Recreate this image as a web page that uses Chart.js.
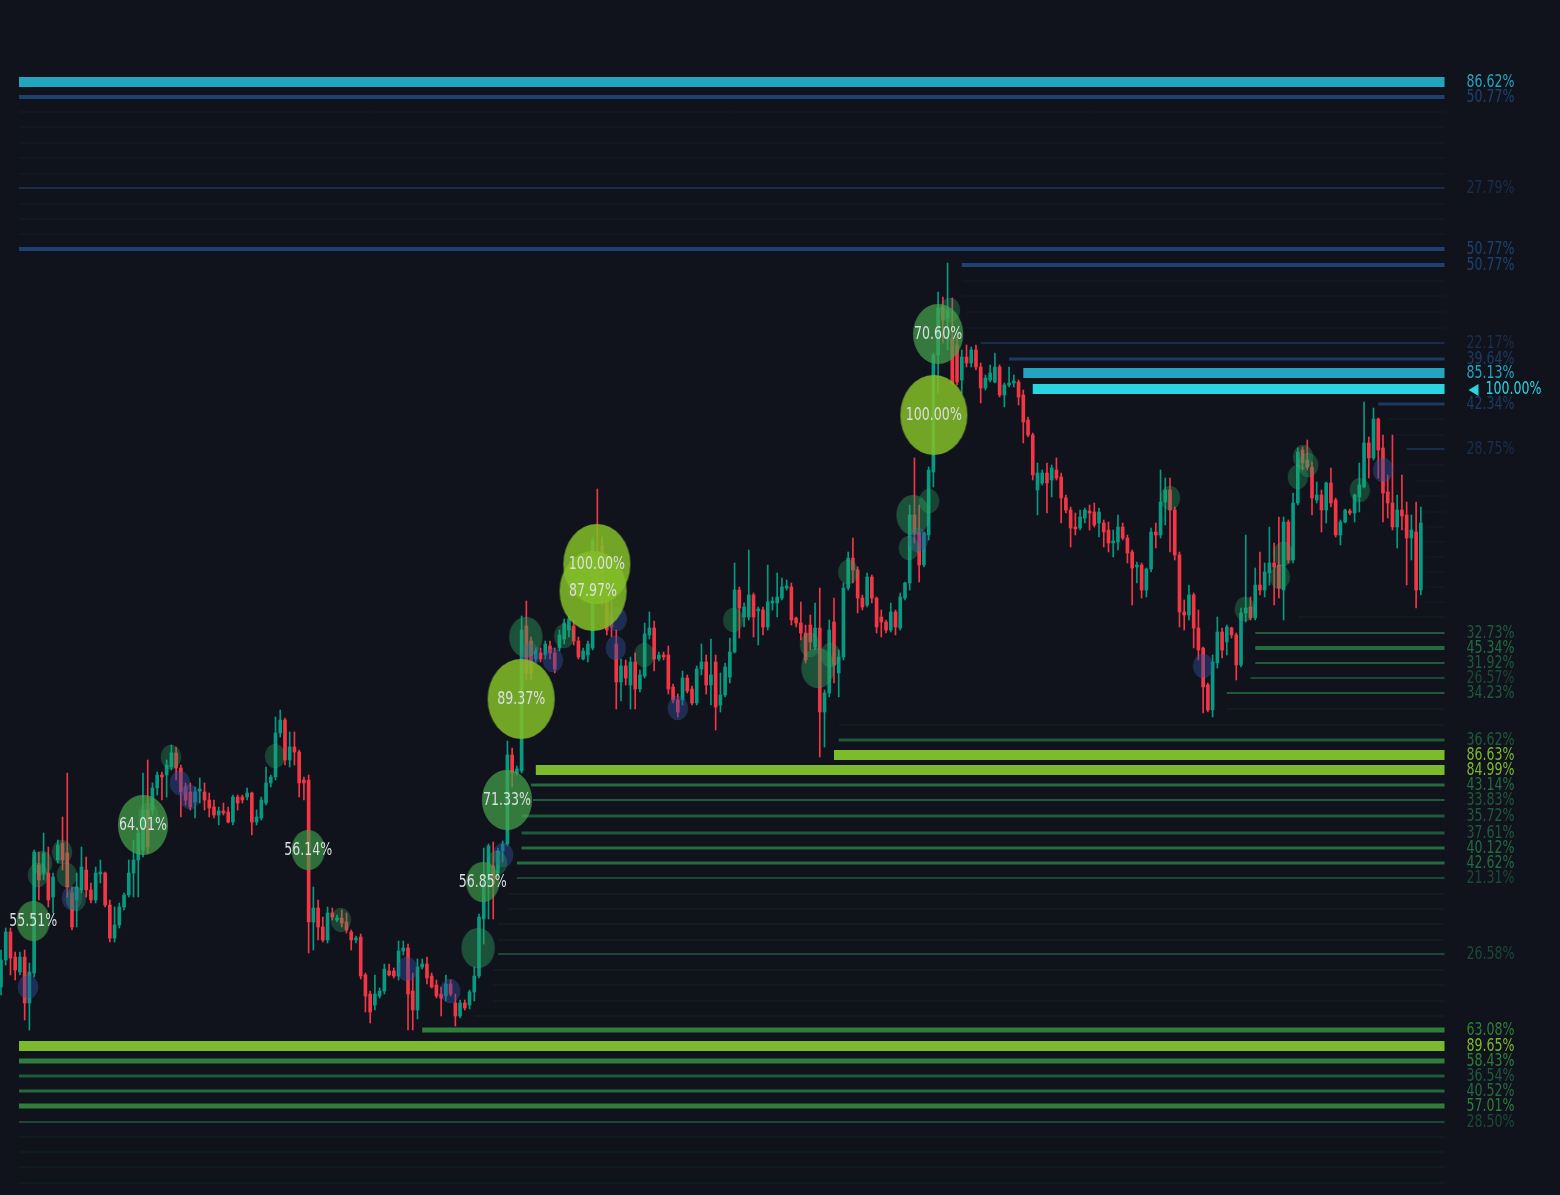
<!DOCTYPE html>
<html><head><meta charset="utf-8">
<script src="https://cdn.jsdelivr.net/npm/chart.js@4.4.1/dist/chart.umd.min.js"></script>
<style>html,body{margin:0;padding:0;background:#10131c;overflow:hidden}#wrap{width:1560px;height:1195px;position:relative}</style>
</head><body><div id="wrap"><canvas id="c"></canvas></div>
<script>
// ---- candles (price units) ----
const openP=[213,240,268,243,228,243,197,227,335,327,
327,303,340,357,347,307,300,310,330,310,
300,326,327,295,262,275,293,305,327,340,
350,390,390,412,425,425,433,447,432,413,
408,398,409,408,400,393,385,389,388,378,
403,403,403,407,378,382,397,417,423,467,
480,440,453,448,420,420,278,292,273,260,
287,280,282,278,268,260,263,225,206,195,
204,209,229,229,224,249,252,209,190,233,
236,224,215,206,204,216,197,184,197,195,
208,224,281,316,334,327,349,356,445,427,
429,574,559,541,547,545,554,547,552,561,
570,574,559,541,545,552,638,654,599,584,
556,518,534,515,538,511,524,565,572,541,
545,545,513,500,500,522,511,497,531,538,
515,538,495,505,523,548,610,583,583,605,
589,590,573,597,597,602,612,613,582,577,
567,575,553,572,488,507,578,527,543,612,
642,630,602,595,623,602,583,578,570,588,
572,602,617,685,667,635,665,728,845,893,
882,862,855,820,843,837,850,833,812,820,
818,833,805,815,817,818,805,780,765,710,
717,727,720,730,723,702,690,673,672,682,
689,688,677,677,670,657,658,673,662,648,
633,635,610,631,668,665,698,710,690,645,
588,585,605,572,552,515,490,537,568,558,
572,565,535,587,593,582,615,610,627,637,
635,610,678,640,697,750,740,733,700,705,
690,717,700,665,678,689,687,703,713,757,
742,781,752,708,697,673,690,685,662,668,
610];
const highP=[250,272,272,248,248,250,237,350,348,367,
353,327,360,383,427,313,327,353,343,317,
333,340,328,300,293,297,307,340,360,370,
427,440,417,428,428,440,455,453,435,417,
417,413,422,417,407,400,393,397,393,405,
405,405,412,408,390,403,433,425,483,490,
482,468,468,450,423,425,313,300,283,293,
292,285,290,287,270,264,266,227,209,225,
212,236,236,232,259,259,256,227,241,241,
243,227,220,213,225,220,206,200,200,210,
233,286,352,356,358,352,359,459,452,434,
584,599,563,552,552,559,559,552,570,581,
584,580,563,552,559,663,711,663,605,599,
570,541,540,543,547,530,577,588,579,548,
548,554,516,506,529,525,514,534,556,545,
561,545,527,537,562,637,613,597,650,607,
593,593,635,603,627,622,620,617,583,598,
575,585,597,612,510,580,602,550,617,648,
662,633,605,627,625,603,590,580,597,590,
607,618,695,742,695,668,733,847,908,903,
937,902,863,850,855,853,855,837,825,835,
847,835,817,833,825,820,810,783,767,737,
730,737,735,742,727,705,693,687,690,692,
695,697,692,680,678,670,685,677,665,650,
638,637,632,672,677,730,722,722,693,648,
600,615,607,590,553,517,545,583,572,575,
573,567,592,665,603,632,648,637,673,657,
683,683,680,707,752,753,760,738,718,710,
718,732,702,680,691,691,706,737,798,763,
792,782,765,725,765,705,725,698,685,698,
693];
const lowP=[205,235,225,220,225,180,170,223,300,320,
293,287,337,330,303,270,273,307,303,297,
297,317,293,258,258,272,290,303,303,303,
343,347,385,405,400,403,430,420,383,395,
390,382,397,390,383,382,375,385,377,375,
390,397,400,365,375,380,395,413,420,463,
435,433,435,403,400,247,250,260,258,257,
280,278,273,267,250,257,221,188,177,190,
202,206,224,222,220,245,170,170,181,231,
216,212,202,184,199,204,174,182,190,191,
199,222,256,281,281,324,338,354,413,425,
427,520,520,538,538,541,541,527,549,556,
563,555,541,540,538,550,610,595,565,563,
491,499,515,491,491,508,522,561,529,539,
540,506,497,483,495,507,495,495,525,506,
495,470,488,503,517,547,562,573,580,563,
555,565,570,590,583,600,610,575,573,560,
537,550,550,443,453,503,517,503,540,610,
617,587,590,593,597,567,563,567,568,565,
570,600,610,657,618,633,660,713,807,857,
850,815,815,807,833,833,830,797,810,818,
817,803,793,813,813,795,757,763,720,685,
715,687,703,720,677,687,653,665,670,677,
670,673,663,653,648,643,650,660,637,595,
617,602,603,628,652,662,675,648,640,573,
570,580,552,540,487,488,483,532,542,545,
562,520,533,578,580,580,605,603,615,595,
602,580,637,637,695,730,730,685,697,668,
677,693,663,655,677,685,678,688,712,722,
740,722,678,682,670,652,670,615,640,592,
605];
const closeP=[240,268,242,230,243,197,228,348,320,347,
300,323,355,340,313,273,313,333,310,300,
327,328,295,262,275,293,305,327,340,367,
390,353,412,425,423,435,447,432,408,400,
393,408,411,400,392,385,389,387,378,403,
397,400,407,378,383,400,417,423,467,480,
440,453,448,417,417,278,292,273,260,287,
283,282,277,270,260,262,224,204,188,206,
209,231,225,224,249,252,206,190,233,236,
222,213,204,202,216,206,184,197,192,208,
224,283,316,354,316,349,356,445,427,431,
570,527,527,549,541,556,547,531,565,577,
581,559,543,549,556,659,613,602,570,573,
518,534,522,538,511,525,566,572,541,545,
543,511,500,488,522,509,497,531,538,515,
525,493,505,533,548,610,592,593,605,583,
591,573,598,599,603,613,614,580,577,567,
540,558,572,488,507,570,535,543,612,642,
630,602,593,623,602,573,578,570,588,573,
603,617,685,667,635,667,730,845,892,880,
890,817,818,843,837,850,833,812,822,827,
833,805,815,817,819,803,778,765,725,727,
727,717,732,722,702,690,672,671,683,690,
687,675,688,668,657,659,673,662,647,632,
635,610,631,668,665,698,710,690,645,588,
585,605,572,550,513,490,538,568,550,573,
565,535,587,592,582,615,610,628,637,633,
612,678,640,697,748,737,733,702,705,690,
717,697,665,678,690,687,705,715,757,742,
781,750,707,697,673,690,684,662,670,610,
677];

// ---- resistance levels (price, start candle, strength %) ----
const resPrice=[1118,1103,1088,1073,1057,1042,1026,1012,996,981,966,951,935,919,904,888,872,857,841,827,811,796,781,765,751,735,719,704,688,673,658,643,628,613,598];
const resStart=[3.8,3.8,3.8,3.8,3.8,3.8,3.8,3.8,3.8,3.8,3.8,3.8,203,203,203,204,204,207,213,216,218,291,293,294.5,297,297,299,299,301,301,301,301,301,301,301];
const resPct=[86.62,50.77,12,10,11,13,15,27.79,14,12,13,50.77,50.77,15,14,16,17,22.17,39.64,85.13,100,42.34,15,14,28.75,16,13,12,9,9,8,8,9,8,9];

// ---- support levels ----
const supPrice=[583,567,552,537,522,507,491,475,460,445,430,415,400,384,367,352,337,322,306,291,276,260,246,230,215,199,184,170,154,139,124,109,94,78,63,48,33,17];
const supStart=[274,265,265,265,264,259,259,177,177,176,113,112,112.4,110,110,110,109,109,107,107,105,105,105,104,104,104,100,89,3.8,3.8,3.8,3.8,3.8,3.8,3.8,3.8,3.8,3.8];
const supPct=[18,32.73,45.34,31.92,26.57,34.23,15,16,36.62,86.63,84.99,43.14,33.83,35.72,37.61,40.12,42.62,21.31,12,11,13,17,26.58,14,12,13,15,63.08,89.65,58.43,36.54,40.52,57.01,28.50,15,12,11,10];

// ---- volume bubbles (candle, price, strength %, side) ----
const bubbleX=[5.7,15.0,37.8,39.9,85.8,94.9,106.1,111.8,116.6,129.9,130.1,143.0,193.7,254.0,292.0,
7.8,8.7,12.9,13.9,15.8,31.1,35.9,57.9,71.8,104.8,119.0,135.9,154.7,170.9,175.2,179.0,196.1,191.8,200.5,247.0,262.8,270.9,270.2,275.1,276.2,274.0,287.1,
100.8,110.9,172.6,192.7,
6.8,30.0,64.9,101.8,106.9,109.9,125.1,125.9,197.1,198.0];
const bubbleY=[213,302,417,403,231,209,345,545,540,552,581,492,660,534,730,
325,337,348,325,301,385,443,444,280,337,564,545,580,555,545,628,699,652,890,702,591,646,623,743,735,723,710,
252,563,532,685,
279,375,350,318,400,501,609,636,785,866];
const bubblePct=[30,30,28,26,30,30,25,26,30,30,22,30,28,30,30,
35,33,32,34,30,28,33,35,34,38,33,32,34,33,34,35,36,33,30,34,35,33,35,34,32,35,34,
50,48,51,49,
55.51,64.01,56.14,56.85,71.33,89.37,87.97,100,100,70.60];
const bubbleSide=['s','s','s','s','s','s','s','s','s','s','s','s','s','s','s',
'b','b','b','b','b','b','b','b','b','b','b','b','b','b','b','b','b','b','b','b','b','b','b','b','b','b','b',
'b','b','b','b',
'b','b','b','b','b','b','b','b','b','b'];

const LEVEL_END=305;

// ---- styling ----
const BG='#10131c', UP='#089981', DOWN='#f23645';
const LABEL_FONT='17px "DejaVu Sans Condensed", "DejaVu Sans", sans-serif';
function levelStyle(kind,p){
  let color,width;
  if(kind==='res'){
    if(p>=95)color='#2ad4e0';else if(p>=80)color='#23a5c0';else if(p>=45)color='#1d4272';
    else if(p>=35)color='#1c3b64';else if(p>=20)color='#192e4d';else color='#151d2c';
  }else{
    if(p>=80)color='#7cbb2b';else if(p>=55)color='#2f7e3c';else if(p>=40)color='#246b40';
    else if(p>=30)color='#1f5a3b';else if(p>=20)color='#1b4935';else color='#152520';
  }
  if(p>=80)width=10;else if(p>=55)width=5;else if(p>=45)width=4;else if(p>=35)width=3;else if(p>=20)width=2;else width=1;
  return {color,width};
}
function bubbleStyle(p,side){
  if(side==='s')return {w:20,h:24,fill:'rgba(48,80,165,0.42)'};
  if(p>=80)return {w:67,h:80,fill:'rgba(130,190,38,0.86)'};
  if(p>=60)return {w:50,h:60,fill:'rgba(70,165,75,0.70)'};
  if(p>=55)return {w:33,h:40,fill:'rgba(62,158,72,0.66)'};
  if(p>=45)return {w:33,h:40,fill:'rgba(45,160,95,0.45)'};
  return {w:20,h:24,fill:'rgba(38,170,100,0.33)'};
}
function ellipseImg(st){
  const c=document.createElement('canvas');c.width=st.w+2;c.height=st.h+2;
  const g=c.getContext('2d');g.fillStyle=st.fill;g.beginPath();
  g.ellipse(c.width/2,c.height/2,st.w/2,st.h/2,0,0,Math.PI*2);g.fill();
  g.strokeStyle='rgba(255,255,255,0.05)';g.lineWidth=1;g.stroke();
  return c;
}
const bubbleImgs=bubbleX.map((_,i)=>ellipseImg(bubbleStyle(bubblePct[i],bubbleSide[i])));

// ---- datasets ----
const datasets=[];
function addLevels(kind,prices,starts,pcts){
  prices.forEach((p,i)=>{
    const s=levelStyle(kind,pcts[i]);
    datasets.push({type:'line',data:[{x:starts[i],y:p},{x:LEVEL_END,y:p}],borderColor:s.color,
      borderWidth:s.width,pointRadius:0,borderCapStyle:'butt',tension:0,order:50+(100-pcts[i])/1000});
  });
}
addLevels('res',resPrice,resStart,resPct);
addLevels('sup',supPrice,supStart,supPct);
const idx=openP.map((_,i)=>i);
const candleColor=c=>closeP[c.dataIndex]>=openP[c.dataIndex]?UP:DOWN;
datasets.push({type:'bar',data:idx.map(i=>({x:i,y:[lowP[i],highP[i]]})),backgroundColor:candleColor,
  barThickness:1,grouped:false,order:40});
datasets.push({type:'bar',data:idx.map(i=>({x:i,y:[openP[i],closeP[i]]})),backgroundColor:candleColor,
  barThickness:3,grouped:false,minBarLength:1,order:30});
datasets.push({type:'scatter',data:bubbleX.map((x,i)=>({x:x,y:bubbleY[i]})),pointRadius:10,
  pointStyle:c=>bubbleImgs[c.dataIndex],order:20});

function narrowText(g,txt,x,y,k){
  g.save();g.translate(x,y);g.scale(k,1);g.fillText(txt,0,0);g.restore();
}
const overlay={id:'overlay',
  beforeDraw(chart){const g=chart.ctx;g.save();g.fillStyle=BG;g.fillRect(0,0,chart.width,chart.height);g.restore();},
  afterDatasetsDraw(chart){
    const g=chart.ctx,xs=chart.scales.x,ys=chart.scales.y;
    g.save();g.font=LABEL_FONT;g.textBaseline='middle';
    const k=Math.min(1,48/g.measureText('86.62%').width);
    // bubble labels
    g.textAlign='center';g.fillStyle='#dcdfe3';
    bubbleX.forEach((x,i)=>{if(bubblePct[i]>=55)narrowText(g,bubblePct[i].toFixed(2)+'%',xs.getPixelForValue(x),ys.getPixelForValue(bubbleY[i])+1,k);});
    // level labels
    g.textAlign='left';
    const lx=xs.getPixelForValue(LEVEL_END)+22;
    function lab(kind,prices,pcts){
      prices.forEach((p,i)=>{
        if(pcts[i]<20)return;
        const y=ys.getPixelForValue(p)+1;const col=levelStyle(kind,pcts[i]).color;g.fillStyle=col;
        if(pcts[i]>=100){
          g.beginPath();g.moveTo(lx+2,y);g.lineTo(lx+12,y-6);g.lineTo(lx+12,y+6);g.closePath();g.fill();
          narrowText(g,pcts[i].toFixed(2)+'%',lx+19,y,k);
        }else narrowText(g,pcts[i].toFixed(2)+'%',lx,y,k);
      });
    }
    lab('res',resPrice,resPct);lab('sup',supPrice,supPct);
    g.restore();
  }};

new Chart(document.getElementById('c'),{
  type:'bar',
  data:{datasets},
  options:{responsive:true,maintainAspectRatio:false,animation:false,
    layout:{padding:0,autoPadding:false},
    plugins:{legend:{display:false},tooltip:{enabled:false}},
    events:[],
    scales:{
      x:{type:'linear',min:-0.211,max:329.4,display:false,offset:false},
      y:{type:'linear',min:5,max:1200,display:false}
    }},
  plugins:[overlay]
});
</script></body></html>
